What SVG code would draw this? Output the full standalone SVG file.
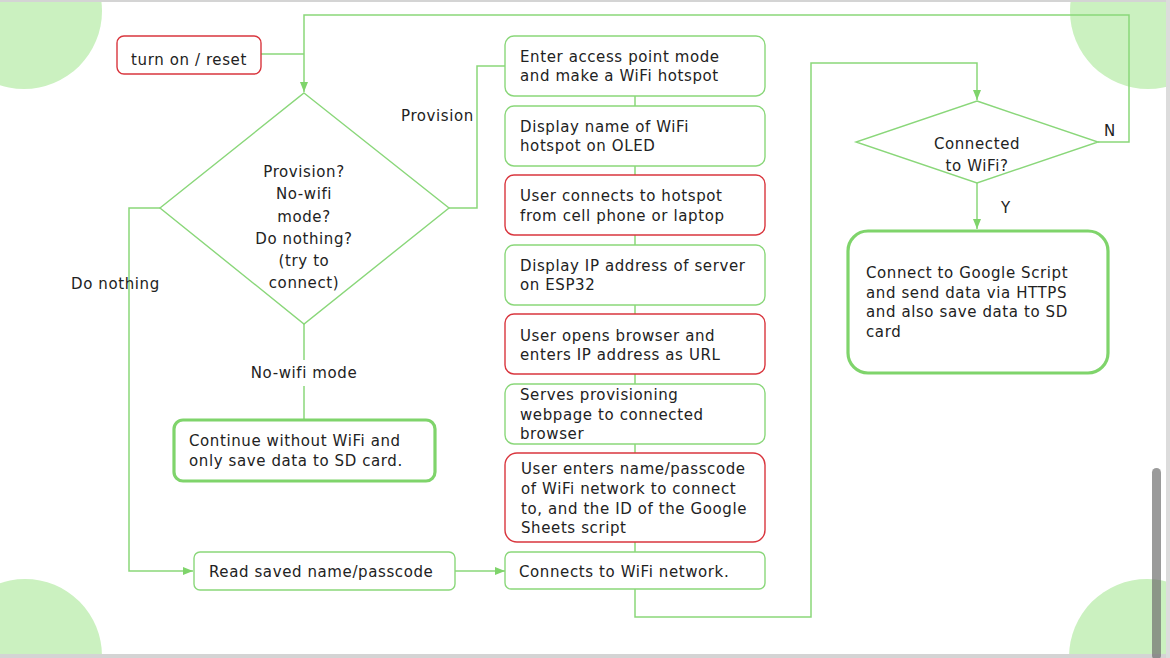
<svg xmlns="http://www.w3.org/2000/svg" width="1170" height="658" viewBox="0 0 1170 658">
<defs>
<style>
.t{font-family:"DejaVu Sans","Liberation Sans",sans-serif;font-size:15px;letter-spacing:0.6px;fill:#222}
.c{text-anchor:middle}
.g{fill:#fff;stroke:#8ad77a;stroke-width:1.4}
.r{fill:#fff;stroke:#d9363e;stroke-width:1.4}
.gb{fill:#fff;stroke:#7fd46b;stroke-width:3.2}
.ln{fill:none;stroke:#8ad77a;stroke-width:1.5}
.dec{fill:#cbf1c0}
</style>
<marker id="ah" viewBox="0 0 10 10" refX="10" refY="5" markerWidth="10" markerHeight="10" markerUnits="userSpaceOnUse" orient="auto">
<path d="M0,1 L10,5 L0,9 Z" fill="#7fd46b"/>
</marker>
</defs>
<rect width="1170" height="658" fill="#fff"/>
<g id="decor">
<circle class="dec" cx="24" cy="11" r="78"/>
<circle class="dec" cx="1148" cy="11" r="78"/>
<circle class="dec" cx="25" cy="656" r="77"/>
<circle class="dec" cx="1147" cy="657" r="78"/>
</g>
<g id="connectors">
<path class="ln" d="M261,54 H304"/>
<path class="ln" d="M1098,142 H1129 V15 H304 V92" marker-end="url(#ah)"/>
<path class="ln" d="M449,208 H477 V66 H505"/>
<path class="ln" d="M635,96 V106 M635,166 V175 M635,235 V245 M635,305 V314 M635,374 V384 M635,444 V453 M635,542 V552"/>
<path class="ln" d="M635,589 V617 H811 V63 H977 V100" marker-end="url(#ah)"/>
<path class="ln" d="M977,183 V229" marker-end="url(#ah)"/>
<path class="ln" d="M160,208 H129 V571 H193" marker-end="url(#ah)"/>
<path class="ln" d="M304,324 V420"/>
<path class="ln" d="M455,571 H505" marker-end="url(#ah)"/>
</g>
<g id="labels">
<text class="t" x="401" y="121">Provision</text>
<text class="t" x="71" y="289">Do nothing</text>
<rect x="244" y="360" width="120" height="26" fill="#fff"/>
<text class="t c" x="304" y="378">No-wifi mode</text>
<text class="t" x="1104" y="136">N</text>
<text class="t" x="1001" y="213">Y</text>
</g>
<g id="start">
<rect class="r" x="117" y="36" width="144" height="38" rx="7"/>
<text class="t c" x="189" y="65">turn on / reset</text>
</g>
<g id="decision1">
<path class="g" d="M304,93 L449,208 L304,324 L160,208 Z"/>
<text class="t c" x="304" y="177">Provision?</text>
<text class="t c" x="304" y="199">No-wifi</text>
<text class="t c" x="304" y="222">mode?</text>
<text class="t c" x="304" y="244">Do nothing?</text>
<text class="t c" x="304" y="266">(try to</text>
<text class="t c" x="304" y="288">connect)</text>
</g>
<g id="ap">
<rect class="g" x="505" y="36" width="260" height="60" rx="9"/>
<text class="t" x="520" y="62">Enter access point mode</text>
<text class="t" x="520" y="81">and make a WiFi hotspot</text>
</g>
<g id="dispname">
<rect class="g" x="505" y="106" width="260" height="60" rx="9"/>
<text class="t" x="520" y="132">Display name of WiFi</text>
<text class="t" x="520" y="151">hotspot on OLED</text>
</g>
<g id="userconn">
<rect class="r" x="505" y="175" width="260" height="60" rx="9"/>
<text class="t" x="520" y="201">User connects to hotspot</text>
<text class="t" x="520" y="221">from cell phone or laptop</text>
</g>
<g id="dispip">
<rect class="g" x="505" y="245" width="260" height="60" rx="9"/>
<text class="t" x="520" y="271">Display IP address of server</text>
<text class="t" x="520" y="290">on ESP32</text>
</g>
<g id="browser">
<rect class="r" x="505" y="314" width="260" height="60" rx="9"/>
<text class="t" x="520" y="341">User opens browser and</text>
<text class="t" x="520" y="360">enters IP address as URL</text>
</g>
<g id="serves">
<rect class="g" x="505" y="384" width="260" height="60" rx="9"/>
<text class="t" x="520" y="400">Serves provisioning</text>
<text class="t" x="520" y="420">webpage to connected</text>
<text class="t" x="520" y="439">browser</text>
</g>
<g id="enters">
<rect class="r" x="505" y="453" width="260" height="89" rx="12"/>
<text class="t" x="521" y="474">User enters name/passcode</text>
<text class="t" x="521" y="494">of WiFi network to connect</text>
<text class="t" x="521" y="514">to, and the ID of the Google</text>
<text class="t" x="521" y="533">Sheets script</text>
</g>
<g id="connects">
<rect class="g" x="505" y="552" width="260" height="37" rx="6"/>
<text class="t" x="519" y="577">Connects to WiFi network.</text>
</g>
<g id="readsaved">
<rect class="g" x="194" y="552" width="261" height="38" rx="6"/>
<text class="t" x="209" y="577">Read saved name/passcode</text>
</g>
<g id="nowifi">
<rect class="gb" x="174" y="420" width="261" height="61" rx="9"/>
<text class="t" x="189" y="446">Continue without WiFi and</text>
<text class="t" x="189" y="466">only save data to SD card.</text>
</g>
<g id="decision2">
<path class="g" d="M977,101 L1098,142 L977,183 L856,142 Z"/>
<text class="t c" x="977" y="149">Connected</text>
<text class="t c" x="977" y="171">to WiFi?</text>
</g>
<g id="google">
<rect class="gb" x="848" y="231" width="260" height="142" rx="20"/>
<text class="t" x="866" y="278">Connect to Google Script</text>
<text class="t" x="866" y="298">and send data via HTTPS</text>
<text class="t" x="866" y="317">and also save data to SD</text>
<text class="t" x="866" y="337">card</text>
</g>
<g id="frame">
<rect x="0" y="0" width="1170" height="2" fill="#d4d4d4"/>
<rect x="0" y="654" width="1170" height="4" fill="#d4d4d4"/>
<rect x="1166" y="0" width="4" height="658" fill="#dcdcdc"/>
<rect x="1152" y="468" width="9" height="192" rx="4.5" fill="#6f6f6f" fill-opacity="0.7"/>
</g>
</svg>
